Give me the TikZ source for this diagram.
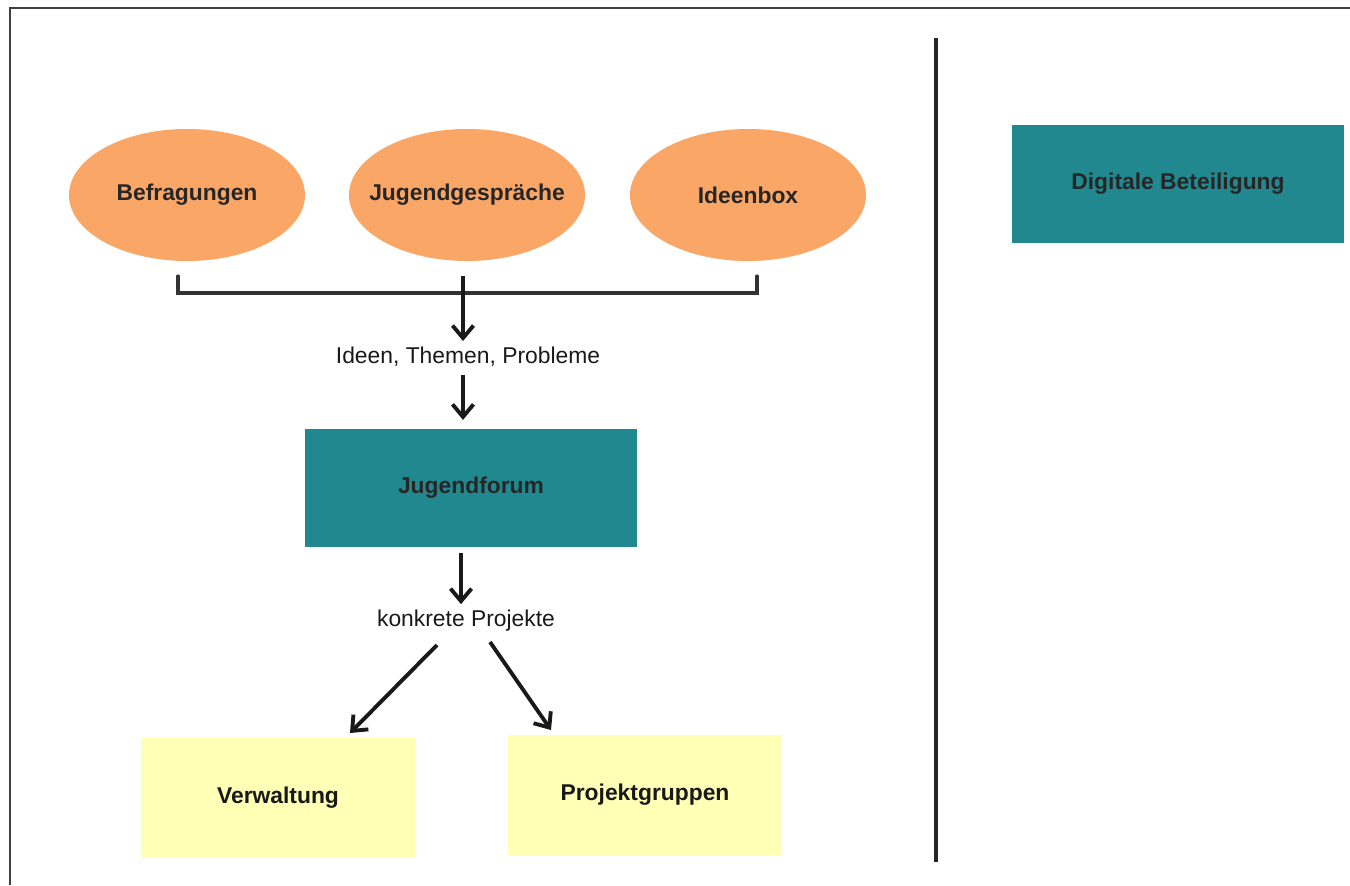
\documentclass[tikz,border=0pt]{standalone}
\usepackage{fontspec}
\setmainfont{Liberation Sans}
\usetikzlibrary{shapes.geometric,arrows.meta}
\definecolor{oval}{RGB}{249,166,102}
\definecolor{petrol}{RGB}{32,136,142}
\definecolor{pale}{RGB}{255,255,182}
\begin{document}
\begin{tikzpicture}[
  oval/.style={ellipse,fill=oval,inner sep=0pt,minimum width=4.72cm,minimum height=2.64cm,font=\fontsize{13}{15}\selectfont\bfseries,text=black!85},
  petrolbox/.style={rectangle,fill=petrol,minimum width=6.64cm,minimum height=2.36cm,font=\fontsize{13}{15}\selectfont\bfseries,text=black!85},
  palebox/.style={rectangle,fill=pale,minimum width=5.48cm,minimum height=2.4cm,font=\fontsize{13}{15}\selectfont\bfseries,text=black!90},
  lbl/.style={font=\fontsize{13}{15}\selectfont,text=black!90},
  arr/.style={line width=2.2pt,black!90,-{Straight Barb[length=2.5mm,width=4.2mm,line width=2.2pt]}},
  bracket/.style={line width=1.8pt,black!80,line cap=round}]
  \useasboundingbox (0,0) rectangle (27,-17.7);
  \draw[line width=1.3pt,black!75] (27,-0.16) -- (0.2,-0.16) -- (0.2,-17.7);
  \draw[line width=1.8pt,black!85] (18.72,-0.76) -- (18.72,-17.24);
  \node[oval] (befr) at (3.74,-3.9) {Befragungen};
  \node[oval] (gespr) at (9.34,-3.9) {\makebox[0pt]{Jugendgespräche}};
  \node[oval] (ideen) at (14.96,-3.9) {Ideenbox};
  \coordinate (bl) at (3.56,-5.52);
  \coordinate (bm) at (9.26,-5.52);
  \coordinate (br) at (15.14,-5.52);
  \draw[bracket] (bl) -- ++(0,-0.34) -| (br);
  \node[lbl] (themen) at (9.36,-7.14) {Ideen, Themen, Probleme};
  \draw[arr] (bm) -- (bm |- themen.north);
  \node[petrolbox] (forum) at (9.42,-9.76) {Jugendforum};
  \draw[arr,shorten <=1pt,shorten >=5pt] (themen.south -| bm) -- (forum.north -| bm);
  \node[lbl] (konkret) at (9.32,-12.42) {konkrete Projekte};
  \draw[arr,shorten <=3pt] (forum.south -| 9.22,0) -- (konkret.north -| 9.22,0);
  \node[palebox] (verw) at (5.56,-15.96) {Verwaltung};
  \node[palebox] (gruppen) at (12.9,-15.9) {Projektgruppen};
  \draw[arr] (8.74,-12.9) -- (7.0,-14.66);
  \draw[arr] (9.8,-12.84) -- (11.02,-14.6);
  \node[petrolbox] (digital) at (23.56,-3.68) {Digitale Beteiligung};
\end{tikzpicture}
\end{document}
